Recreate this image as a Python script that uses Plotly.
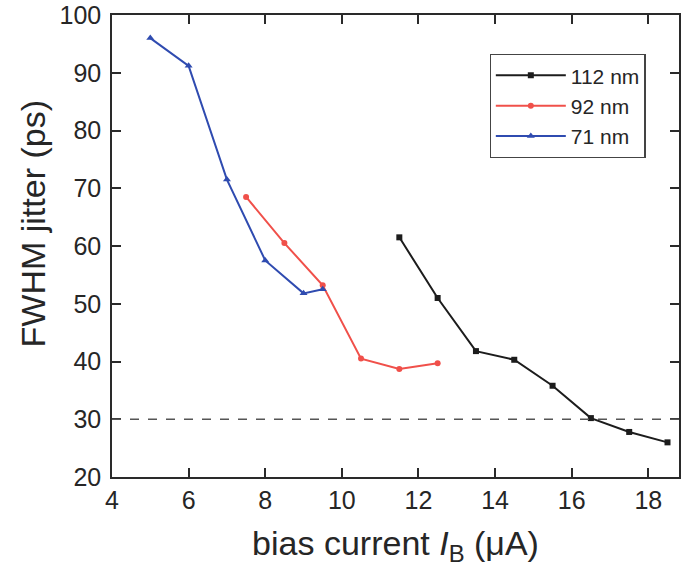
import plotly.graph_objects as go

# data
x_112 = [11.5, 12.5, 13.5, 14.5, 15.5, 16.5, 17.5, 18.5]
y_112 = [61.5, 51.0, 41.8, 40.3, 35.8, 30.2, 27.8, 26.0]
x_92 = [7.5, 8.5, 9.5, 10.5, 11.5, 12.5]
y_92 = [68.5, 60.5, 53.2, 40.5, 38.7, 39.7]
x_71 = [5, 6, 7, 8, 9, 9.5]
y_71 = [96.0, 91.2, 71.5, 57.5, 51.8, 52.5]
ref_level = 30
x_ticks = [4, 6, 8, 10, 12, 14, 16, 18]
y_ticks = [20, 30, 40, 50, 60, 70, 80, 90, 100]

FONT = "Liberation Sans, Arial, sans-serif"
TXT = "#262626"

fig = go.Figure()
fig.add_trace(go.Scatter(x=x_112, y=y_112, name="112 nm", mode="lines+markers",
                         line=dict(color="#1c1c1c", width=2),
                         marker=dict(symbol="square", size=6, color="#1c1c1c")))
fig.add_trace(go.Scatter(x=x_92, y=y_92, name="92 nm", mode="lines+markers",
                         line=dict(color="#f0504a", width=2),
                         marker=dict(symbol="circle", size=6, color="#f0504a")))
fig.add_trace(go.Scatter(x=x_71, y=y_71, name="71 nm", mode="lines+markers",
                         line=dict(color="#2f4bb0", width=2),
                         marker=dict(symbol="triangle-up", size=7, color="#2f4bb0")))

fig.add_shape(type="line", xref="paper", yref="y", x0=0, x1=1, y0=ref_level, y1=ref_level,
              line=dict(color="#555555", width=1.5, dash="dash"))

axis_common = dict(showgrid=False, zeroline=False, showline=True, linecolor="#2a2a2a",
                   linewidth=1.5, ticks="inside", ticklen=9, tickwidth=1.5,
                   tickcolor="#2a2a2a", mirror="ticks",
                   tickfont=dict(family=FONT, size=25, color=TXT))

fig.update_xaxes(range=[4, 18.8], tickvals=x_ticks,
                 title=dict(text="bias current <i>I</i><sub>B</sub> (μA)",
                            font=dict(family=FONT, size=34, color=TXT), standoff=18),
                 **axis_common)
fig.update_yaxes(range=[20, 100], tickvals=y_ticks, ticklabelstandoff=4,
                 **axis_common)

# y-axis title placed as annotation (it sits above the axis centre in the reference)
fig.add_annotation(text="FWHM jitter (ps)", textangle=-90, xref="paper", yref="paper",
                   x=-0.14, y=0.548, xanchor="center", yanchor="middle", showarrow=False,
                   font=dict(family=FONT, size=34, color=TXT))

fig.update_layout(
    width=681, height=580,
    margin=dict(l=112, r=0, t=15, b=103),
    paper_bgcolor="white", plot_bgcolor="white",
    showlegend=True,
    legend=dict(x=0.666, y=0.9156, xanchor="left", yanchor="top",
                bgcolor="white", bordercolor="#444444", borderwidth=1.2,
                font=dict(family=FONT, size=21, color=TXT),
                itemwidth=70, tracegroupgap=0),
)

fig.write_html("out.html")
